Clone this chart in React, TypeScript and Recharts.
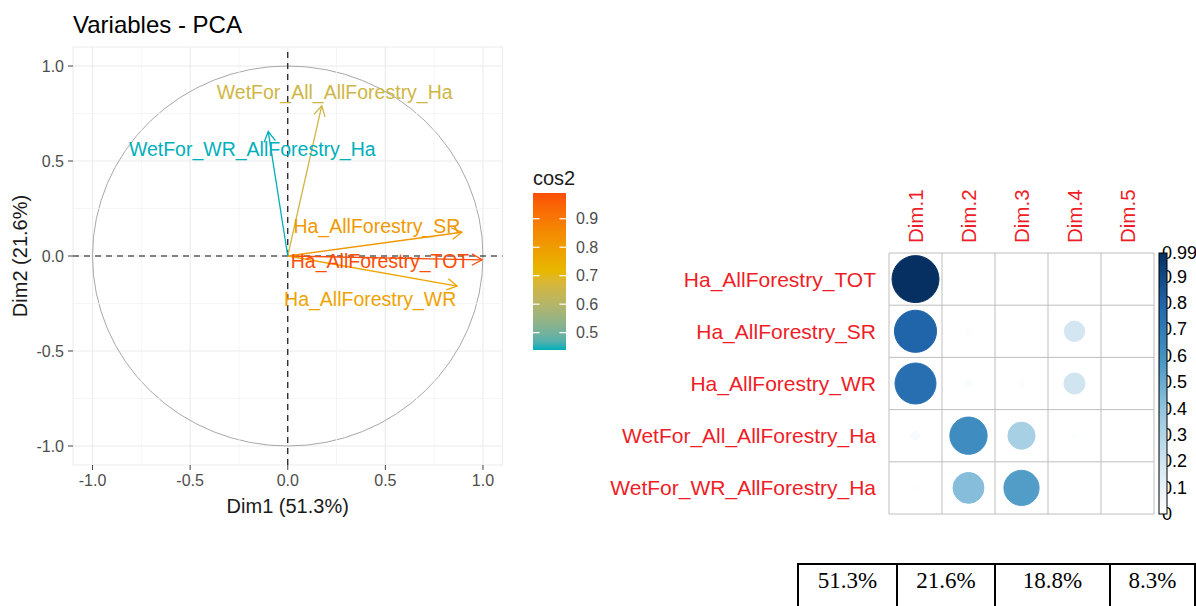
import React from 'react';
import {
  ComposedChart,
  Line,
  XAxis,
  YAxis,
  CartesianGrid,
  ReferenceLine,
  ReferenceArea,
  ScatterChart,
  Scatter,
} from 'recharts';

const FONT = '"Liberation Sans", Arial, Helvetica, sans-serif';
const SERIF = '"Liberation Serif", "Times New Roman", serif';

// ---- data ---------------------------------------------------------------
const variables = [
  'Ha_AllForestry_TOT',
  'Ha_AllForestry_SR',
  'Ha_AllForestry_WR',
  'WetFor_All_AllForestry_Ha',
  'WetFor_WR_AllForestry_Ha',
];

// coordinates of the variables on the first two dimensions
const dim1Coord = [0.995, 0.892, 0.868, 0.174, -0.1];
const dim2Coord = [-0.02, 0.125, -0.158, 0.79, 0.655];

// squared cosines per dimension (one value per variable)
const dimNames = ['Dim.1', 'Dim.2', 'Dim.3', 'Dim.4', 'Dim.5'];
const cos2Dim1 = [0.99, 0.796, 0.753, 0.03, 0.01];
const cos2Dim2 = [0.0004, 0.016, 0.025, 0.624, 0.429];
const cos2Dim3 = [0.002, 0.001, 0.018, 0.33, 0.556];
const cos2Dim4 = [0.006, 0.187, 0.2, 0.014, 0.001];
const cos2Dim5 = [0.0016, 0.0, 0.004, 0.002, 0.004];
const cos2ByDim = [cos2Dim1, cos2Dim2, cos2Dim3, cos2Dim4, cos2Dim5];

const explainedVariance = ['51.3%', '21.6%', '18.8%', '8.3%'];

const pcaTicks = [-1, -0.5, 0, 0.5, 1];
const pcaMinorTicks = [-0.75, -0.25, 0.25, 0.75];
const cos2LegendBreaks = [0.5, 0.6, 0.7, 0.8, 0.9];
const corrLegendBreaks = [0, 0.1, 0.2, 0.3, 0.4, 0.5, 0.6, 0.7, 0.8, 0.9];

// label placement (pixel nudge from the arrow tip), per variable
const labelNudge: [number, number][] = [
  [-102, 1],
  [-85, -6],
  [-87, 13],
  [13, -14],
  [-16, 17],
];

// ---- colour helpers ----------------------------------------------------------
const hexToRgb = (h: string) => {
  const n = parseInt(h.slice(1), 16);
  return [(n >> 16) & 255, (n >> 8) & 255, n & 255];
};
const toLin = (c: number) => {
  const v = c / 255;
  return v <= 0.04045 ? v / 12.92 : Math.pow((v + 0.055) / 1.055, 2.4);
};
const fromLin = (c: number) => {
  const v = c <= 0.0031308 ? 12.92 * c : 1.055 * Math.pow(Math.max(c, 0), 1 / 2.4) - 0.055;
  return Math.round(Math.min(1, Math.max(0, v)) * 255);
};
const rgbToLab = (rgb: number[]) => {
  const [R, G, B] = rgb.map(toLin);
  const X = (0.4124564 * R + 0.3575761 * G + 0.1804375 * B) / 0.95047;
  const Y = 0.2126729 * R + 0.7151522 * G + 0.072175 * B;
  const Z = (0.0193339 * R + 0.119192 * G + 0.9503041 * B) / 1.08883;
  const f = (t: number) => (t > 0.008856 ? Math.cbrt(t) : 7.787 * t + 16 / 116);
  const fx = f(X), fy = f(Y), fz = f(Z);
  return [116 * fy - 16, 500 * (fx - fy), 200 * (fy - fz)];
};
const labToCss = ([L, a, b]: number[]) => {
  const fy = (L + 16) / 116, fx = fy + a / 500, fz = fy - b / 200;
  const inv = (t: number) => (t * t * t > 0.008856 ? t * t * t : (t - 16 / 116) / 7.787);
  const X = inv(fx) * 0.95047, Y = inv(fy), Z = inv(fz) * 1.08883;
  const R = 3.2404542 * X - 1.5371385 * Y - 0.4985314 * Z;
  const G = -0.969266 * X + 1.8760108 * Y + 0.041556 * Z;
  const B = 0.0556434 * X - 0.2040259 * Y + 1.0572252 * Z;
  return `rgb(${fromLin(R)},${fromLin(G)},${fromLin(B)})`;
};
const ramp = (stops: string[], space: 'lab' | 'rgb') => {
  const pts = stops.map((s) => (space === 'lab' ? rgbToLab(hexToRgb(s)) : hexToRgb(s)));
  return (t: number) => {
    const c = Math.min(1, Math.max(0, t)) * (pts.length - 1);
    const i = Math.min(pts.length - 2, Math.floor(c));
    const f = c - i;
    const mix = pts[i].map((v, k) => v + (pts[i + 1][k] - v) * f);
    return space === 'lab'
      ? labToCss(mix)
      : `rgb(${mix.map((v) => Math.round(v)).join(',')})`;
  };
};

const cos2Ramp = ramp(['#00AFBB', '#E7B800', '#FC4E07'], 'lab');
const bluesRamp = ramp(['#FFFFFF', '#D1E5F0', '#92C5DE', '#4393C3', '#2166AC', '#053061'], 'rgb');

// quality of representation on the Dim1/Dim2 plane
const cos2Plane = variables.map((_, i) => dim1Coord[i] ** 2 + dim2Coord[i] ** 2);
const cos2Min = Math.min(...cos2Plane);
const cos2Max = Math.max(...cos2Plane);
const cos2Color = (v: number) => cos2Ramp((v - cos2Min) / (cos2Max - cos2Min));

const corrMax = Math.max(...cos2ByDim.flat());
const corrColor = (v: number) => bluesRamp(v / corrMax);

// ---- layout -----------------------------------------------------------------
const PCA = {
  width: 520,
  height: 540,
  margin: { top: 47, right: 17.5, bottom: 45, left: 0 },
  yAxisWidth: 73,
  xAxisHeight: 30,
};

const CORR = {
  left: 590,
  top: 150,
  width: 606,
  height: 400,
  margin: { top: 0, right: 42, bottom: 36, left: 0 },
  yAxisWidth: 299,
  xAxisHeight: 103,
};
const corrPlotW = CORR.width - CORR.margin.left - CORR.margin.right - CORR.yAxisWidth;
const corrPlotH = CORR.height - CORR.margin.top - CORR.margin.bottom - CORR.xAxisHeight;
const corrCell = Math.min(corrPlotW / dimNames.length, corrPlotH / variables.length);
const corrPlotTop = CORR.top + CORR.margin.top + CORR.xAxisHeight;
const corrPlotBottom = corrPlotTop + corrPlotH;

const cellEdges = Array.from({ length: dimNames.length + 1 }, (_, k) => k + 0.5);
const rowEdges = Array.from({ length: variables.length + 1 }, (_, k) => k + 0.5);
const corrCells = variables.flatMap((_, r) =>
  dimNames.map((__, c) => ({ x: c + 1, y: r + 1, v: cos2ByDim[c][r] }))
);

// ---- PCA variable plot ------------------------------------------------------------
const UnitCircle = (p: any) => (
  <ellipse
    cx={p.x + p.width / 2}
    cy={p.y + p.height / 2}
    rx={Math.abs(p.width) / 2}
    ry={Math.abs(p.height) / 2}
    fill="none"
    stroke="#A8A8A8"
    strokeWidth={1}
  />
);

const fmt1 = (v: number) => v.toFixed(1);

function PcaChart() {
  return (
    <ComposedChart width={PCA.width} height={PCA.height} margin={PCA.margin}>
      <CartesianGrid stroke="#EBEBEB" strokeWidth={1.1} />
      {pcaMinorTicks.map((v) => (
        <ReferenceLine key={'mx' + v} x={v} stroke="#F3F3F3" strokeWidth={0.8} />
      ))}
      {pcaMinorTicks.map((v) => (
        <ReferenceLine key={'my' + v} y={v} stroke="#F3F3F3" strokeWidth={0.8} />
      ))}
      <XAxis
        type="number"
        dataKey="x"
        domain={[-1.1, 1.1]}
        ticks={pcaTicks}
        interval={0}
        height={PCA.xAxisHeight}
        tickFormatter={fmt1}
        axisLine={false}
        tickLine={{ stroke: '#444' }}
        tickSize={5}
        tickMargin={5}
        tick={{ fill: '#4D4D4D', fontSize: 16, fontFamily: FONT }}
        label={{
          content: (lp: any) => {
            const vb = lp.viewBox || {};
            return (
              <text
                x={vb.x + vb.width / 2}
                y={vb.y + vb.height + 18}
                textAnchor="middle"
                fontSize={20}
                fill="#1A1A1A"
                fontFamily={FONT}
              >
                Dim1 (51.3%)
              </text>
            );
          },
        }}
      />
      <YAxis
        type="number"
        dataKey="y"
        domain={[-1.1, 1.1]}
        ticks={pcaTicks}
        interval={0}
        width={PCA.yAxisWidth}
        tickFormatter={fmt1}
        axisLine={false}
        tickLine={{ stroke: '#444' }}
        tickSize={5}
        tickMargin={4}
        tick={{ fill: '#4D4D4D', fontSize: 16, fontFamily: FONT }}
        label={{
          content: (lp: any) => {
            const vb = lp.viewBox || {};
            const cx = vb.x + 20;
            const cy = vb.y + vb.height / 2;
            return (
              <text
                x={cx}
                y={cy}
                transform={`rotate(-90 ${cx} ${cy})`}
                textAnchor="middle"
                dominantBaseline="central"
                fontSize={20}
                fill="#1A1A1A"
                fontFamily={FONT}
              >
                Dim2 (21.6%)
              </text>
            );
          },
        }}
      />
      <ReferenceArea x1={-1} x2={1} y1={-1} y2={1} shape={UnitCircle} />
      <ReferenceLine x={0} stroke="#111" strokeWidth={1.2} strokeDasharray="6 5" />
      <ReferenceLine y={0} stroke="#111" strokeWidth={1.2} strokeDasharray="6 5" />
      {variables.map((name, i) => {
        const col = cos2Color(cos2Plane[i]);
        return (
          <Line
            key={name}
            data={[
              { x: 0, y: 0 },
              { x: dim1Coord[i], y: dim2Coord[i] },
            ]}
            dataKey="y"
            type="linear"
            stroke={col}
            strokeWidth={1.3}
            markerEnd={`url(#arrowhead-${i})`}
            activeDot={false}
            isAnimationActive={false}
            dot={(p: any) =>
              p.index === 1 ? (
                <text
                  key={`lbl-${i}`}
                  x={p.cx + labelNudge[i][0]}
                  y={p.cy + labelNudge[i][1]}
                  textAnchor="middle"
                  dominantBaseline="central"
                  fontSize={19.5}
                  fill={col}
                  fontFamily={FONT}
                >
                  {name}
                </text>
              ) : (
                <g key={`nolbl-${i}`} />
              )
            }
          />
        );
      })}
    </ComposedChart>
  );
}

// ---- cos2 matrix (corrplot style) ------------------------------------------------------
const RED = '#EE1D27';

const DimTick = (p: any) => {
  const label = dimNames[p.payload.value - 1];
  return (
    <text
      x={p.x}
      y={p.y}
      transform={`rotate(-90 ${p.x} ${p.y})`}
      textAnchor="start"
      dominantBaseline="central"
      fontSize={20.5}
      fill={RED}
      fontFamily={FONT}
    >
      {label}
    </text>
  );
};

const VarTick = (p: any) => (
  <text
    x={p.x}
    y={p.y}
    textAnchor="end"
    dominantBaseline="central"
    fontSize={21}
    fill={RED}
    fontFamily={FONT}
  >
    {variables[p.payload.value - 1]}
  </text>
);

const CellCircle = (p: any) => {
  const v = p.payload.v;
  const r = 0.45 * corrCell * Math.sqrt(Math.max(v, 0) / corrMax);
  const col = corrColor(v);
  return <circle cx={p.cx} cy={p.cy} r={r} fill={col} stroke={col} strokeWidth={1} />;
};

function CorrChart() {
  return (
    <ScatterChart width={CORR.width} height={CORR.height} margin={CORR.margin}>
      {cellEdges.map((v) => (
        <ReferenceLine key={'cx' + v} x={v} stroke="#BEBEBE" strokeWidth={1} />
      ))}
      {rowEdges.map((v) => (
        <ReferenceLine key={'cy' + v} y={v} stroke="#BEBEBE" strokeWidth={1} />
      ))}
      <XAxis
        type="number"
        dataKey="x"
        orientation="top"
        domain={[0.5, dimNames.length + 0.5]}
        ticks={dimNames.map((_, k) => k + 1)}
        interval={0}
        height={CORR.xAxisHeight}
        axisLine={false}
        tickLine={false}
        tickSize={0}
        tickMargin={10}
        tick={DimTick}
      />
      <YAxis
        type="number"
        dataKey="y"
        reversed
        domain={[0.5, variables.length + 0.5]}
        ticks={variables.map((_, k) => k + 1)}
        interval={0}
        width={CORR.yAxisWidth}
        axisLine={false}
        tickLine={false}
        tickSize={0}
        tickMargin={13}
        tick={VarTick}
      />
      <Scatter data={corrCells} shape={CellCircle} isAnimationActive={false} />
    </ScatterChart>
  );
}

// ---- titles, legends and arrow markers --------------------------------------------
const COS2_BAR = { x: 533, y: 193, w: 33, h: 157 };
const CORR_BAR = { x: 1159, w: 8 };

function Overlay() {
  const gradStops = Array.from({ length: 21 }, (_, k) => k / 20);
  const cos2Y = (v: number) => COS2_BAR.y + ((cos2Max - v) / (cos2Max - cos2Min)) * COS2_BAR.h;
  const corrY = (v: number) => corrPlotBottom - (v / corrMax) * (corrPlotBottom - corrPlotTop);
  const corrLabels = [
    ...corrLegendBreaks.map((v) => ({ v, t: v === 0 ? '0' : v.toFixed(1) })),
    { v: corrMax, t: corrMax.toFixed(2) },
  ];
  return (
    <svg
      width={1196}
      height={606}
      style={{ position: 'absolute', left: 0, top: 0, pointerEvents: 'none' }}
    >
      <defs>
        {variables.map((name, i) => (
          <marker
            key={name}
            id={`arrowhead-${i}`}
            viewBox="0 0 12 12"
            markerUnits="userSpaceOnUse"
            markerWidth={12}
            markerHeight={12}
            refX={11}
            refY={6}
            orient="auto"
            style={{ overflow: 'visible' }}
          >
            <path
              d="M1,0.3 L11,6 L1,11.7"
              fill="none"
              stroke={cos2Color(cos2Plane[i])}
              strokeWidth={1.3}
            />
          </marker>
        ))}
        <linearGradient id="cos2-grad" x1="0" y1="1" x2="0" y2="0">
          {gradStops.map((t) => (
            <stop key={t} offset={t} stopColor={cos2Ramp(t)} />
          ))}
        </linearGradient>
        <linearGradient id="corr-grad" x1="0" y1="1" x2="0" y2="0">
          {gradStops.map((t) => (
            <stop key={t} offset={t} stopColor={bluesRamp(t)} />
          ))}
        </linearGradient>
      </defs>

      <text x={73} y={33} fontSize={24} fill="#000" fontFamily={FONT}>
        Variables - PCA
      </text>

      {/* cos2 colour bar */}
      <text x={COS2_BAR.x} y={178} fontSize={20} fill="#1A1A1A" fontFamily={FONT} dominantBaseline="central">
        cos2
      </text>
      <rect x={COS2_BAR.x} y={COS2_BAR.y} width={COS2_BAR.w} height={COS2_BAR.h} fill="url(#cos2-grad)" />
      {cos2LegendBreaks.map((v) => {
        const y = cos2Y(v);
        return (
          <g key={v}>
            <line x1={COS2_BAR.x} x2={COS2_BAR.x + COS2_BAR.w / 5} y1={y} y2={y} stroke="#fff" strokeWidth={1.2} />
            <line x1={COS2_BAR.x + COS2_BAR.w - COS2_BAR.w / 5} x2={COS2_BAR.x + COS2_BAR.w} y1={y} y2={y} stroke="#fff" strokeWidth={1.2} />
            <text x={COS2_BAR.x + COS2_BAR.w + 10} y={y} fontSize={16} fill="#4D4D4D" fontFamily={FONT} dominantBaseline="central">
              {v.toFixed(1)}
            </text>
          </g>
        );
      })}

      {/* cos2 matrix colour bar (drawn over the leading digit of its labels) */}
      {corrLabels.map((l) => (
        <text key={l.t} x={CORR_BAR.x + 3} y={corrY(l.v)} fontSize={18} fill="#000" fontFamily={FONT} dominantBaseline="central">
          {l.t}
        </text>
      ))}
      <rect
        x={CORR_BAR.x}
        y={corrPlotTop}
        width={CORR_BAR.w}
        height={corrPlotBottom - corrPlotTop}
        fill="url(#corr-grad)"
        stroke="#000"
        strokeWidth={1}
      />
    </svg>
  );
}

const tableColWidths = [97, 96, 113, 83];

function VarianceTable() {
  return (
    <table
      style={{
        position: 'absolute',
        left: 797,
        top: 563,
        borderCollapse: 'collapse',
        fontFamily: SERIF,
        fontSize: 23,
        color: '#000',
      }}
    >
      <tbody>
        <tr>
          {explainedVariance.map((e, i) => (
            <td
              key={e}
              style={{
                border: '2px solid #000',
                width: tableColWidths[i],
                height: 50,
                textAlign: 'center',
                verticalAlign: 'top',
                padding: '3px 0 0 0',
                lineHeight: '26px',
              }}
            >
              {e}
            </td>
          ))}
        </tr>
      </tbody>
    </table>
  );
}

export default function App() {
  return (
    <div
      style={{
        position: 'absolute',
        left: 0,
        top: 0,
        width: 1196,
        height: 606,
        overflow: 'hidden',
        background: '#fff',
        fontFamily: FONT,
      }}
    >
      <div style={{ position: 'absolute', left: 0, top: 0 }}>
        <PcaChart />
      </div>
      <div style={{ position: 'absolute', left: CORR.left, top: CORR.top }}>
        <CorrChart />
      </div>
      <Overlay />
      <VarianceTable />
    </div>
  );
}
